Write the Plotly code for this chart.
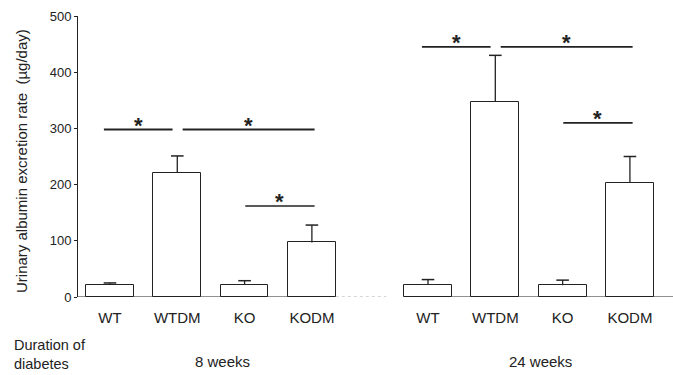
import plotly.graph_objects as go

# ---- data ----
categories = ["WT", "WTDM", "KO", "KODM"]
durations = ["8 weeks", "24 weeks"]
means_8wk = [22, 221, 22, 97]
sem_8wk = [3, 30, 7, 31]
means_24wk = [22, 347, 21, 203]
sem_24wk = [9, 83, 9, 47]
sig_pairs = [(0, 1), (1, 3), (2, 3)]
sig_levels_8wk = [298, 298, 162]
sig_levels_24wk = [445, 445, 310]
y_ticks = [0, 100, 200, 300, 400, 500]

# ---- layout helpers ----
FONT = "Liberation Sans, Arial, sans-serif"
INK = "#222222"
group_step = 4.725
bar_w = 0.71
x_range = [-0.475, 8.365]

groups = [
    (means_8wk, sem_8wk, sig_levels_8wk),
    (means_24wk, sem_24wk, sig_levels_24wk),
]

fig = go.Figure()
tickvals, ticktext = [], []
shapes, annotations = [], []
pos_all = []

for g, (means, sems, levels) in enumerate(groups):
    pos = [g * group_step + i for i in range(len(categories))]
    pos_all.append(pos)
    tickvals += pos
    ticktext += categories
    fig.add_trace(go.Bar(
        x=pos, y=means, width=bar_w,
        marker=dict(color="white", line=dict(color=INK, width=1)),
        error_y=dict(type="data", array=sems, arrayminus=[0] * len(sems),
                     symmetric=False, color=INK, thickness=1.3, width=0),
        showlegend=False, hoverinfo="skip",
    ))
    # caps on top of the error bars only
    fig.add_trace(go.Scatter(
        x=pos, y=[m + s for m, s in zip(means, sems)], mode="markers",
        marker=dict(symbol="line-ew", size=9, line=dict(color=INK, width=1.5)),
        showlegend=False, hoverinfo="skip",
    ))
    offs = [(-0.09, -0.07), (0.08, 0.04), (0.01, 0.04)]
    for (a, b), lvl, (oa, ob) in zip(sig_pairs, levels, offs):
        x0, x1 = pos[a] + oa, pos[b] + ob
        shapes.append(dict(type="line", xref="x", yref="y", x0=x0, x1=x1,
                           y0=lvl, y1=lvl,
                           line=dict(color=INK, width=1.8 if lvl > 200 else 1.4)))
        annotations.append(dict(x=(x0 + x1) / 2, y=lvl, xref="x", yref="y",
                                text="<b>*</b>", showarrow=False, yanchor="middle",
                                yshift=4, font=dict(family=FONT, size=22, color=INK)))
    annotations.append(dict(x=(pos[0] + pos[-1]) / 2 + 0.17, y=-0.231,
                            xref="x", yref="paper", text=durations[g],
                            showarrow=False, yanchor="middle",
                            font=dict(family=FONT, size=15, color=INK)))

# baselines
left_end = pos_all[0][-1] + bar_w / 2
right_start = pos_all[1][0] - bar_w / 2
shapes.append(dict(type="line", xref="x", yref="y", x0=x_range[0], x1=left_end,
                   y0=0, y1=0, line=dict(color=INK, width=1)))
shapes.append(dict(type="line", xref="x", yref="y", x0=left_end,
                   x1=left_end + 0.75, y0=0, y1=0,
                   line=dict(color="#aaaaaa", width=1, dash="dot")))
shapes.append(dict(type="line", xref="x", yref="y", x0=right_start, x1=x_range[1],
                   y0=0, y1=0, line=dict(color=INK, width=1)))

# y title and row label
annotations.append(dict(x=0, y=0.484, xref="paper", yref="paper",
                        text="Urinary albumin excretion rate  (\u00b5g/day)",
                        textangle=-90, showarrow=False, xanchor="center",
                        yanchor="middle", xshift=-56,
                        font=dict(family=FONT, size=15, color=INK)))
annotations.append(dict(x=0, y=-0.135, xref="paper", yref="paper",
                        text="Duration of<br>diabetes", showarrow=False,
                        xanchor="left", yanchor="top", align="left", xshift=-66,
                        font=dict(family=FONT, size=14.5, color=INK)))

fig.update_layout(
    width=673, height=375,
    margin=dict(l=78, r=0, t=16, b=78),
    paper_bgcolor="white", plot_bgcolor="white",
    bargap=0,
    shapes=shapes, annotations=annotations,
    font=dict(family=FONT, color=INK),
    xaxis=dict(range=x_range, tickvals=tickvals, ticktext=ticktext,
               showline=False, showgrid=False, zeroline=False, ticks="",
               ticklabelstandoff=10,
               tickfont=dict(family=FONT, size=15, color=INK), fixedrange=True),
    yaxis=dict(range=[0, 500], tickvals=y_ticks, showline=True, linecolor=INK,
               linewidth=1, ticks="outside", ticklen=3, tickcolor=INK,
               showgrid=False, zeroline=False,
               tickfont=dict(family=FONT, size=13, color=INK), fixedrange=True),
)

fig.write_html("out.html", config={"displayModeBar": False},
               post_script="document.body.style.margin='0';"
                           "document.body.style.overflow='hidden';")
